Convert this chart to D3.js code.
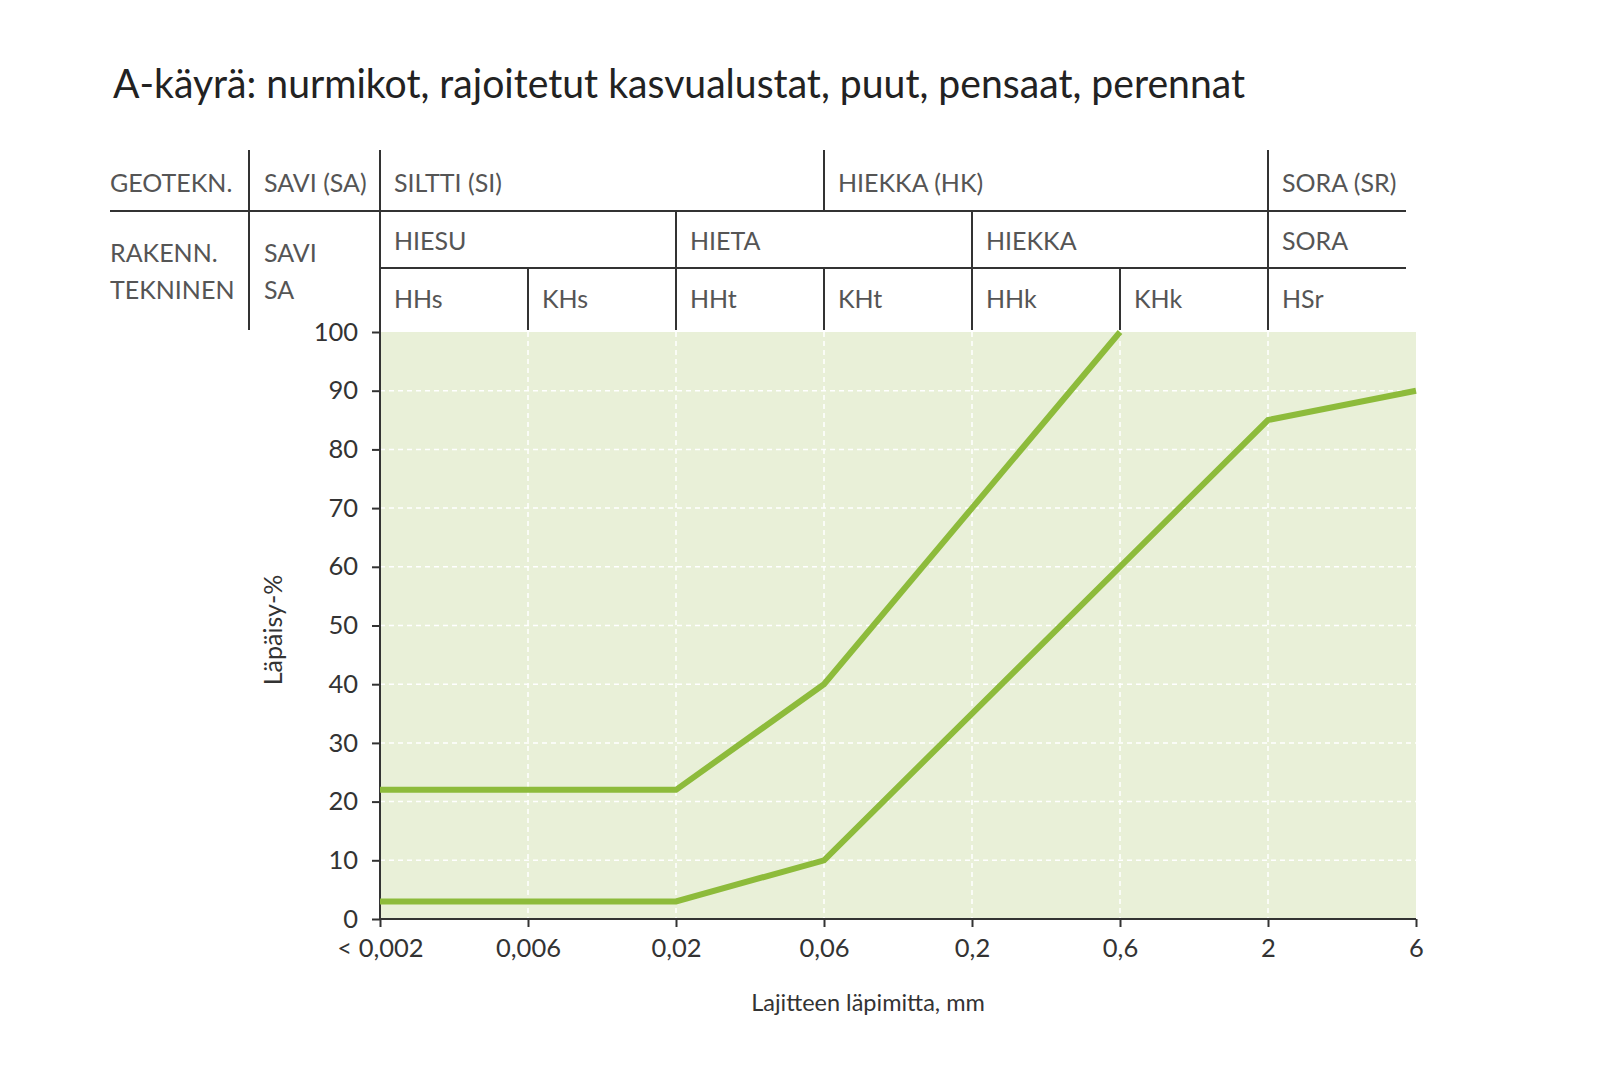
<!DOCTYPE html>
<html>
<head>
<meta charset="utf-8">
<script src="https://cdn.jsdelivr.net/npm/d3@7/dist/d3.min.js"></script>
<style>
  html, body { margin: 0; padding: 0; background: #ffffff; }
  svg { display: block; }
  text { font-family: Lato, "Noto Sans", sans-serif; }
</style>
</head>
<body>
<div id="chart"></div>
<script>
// ---- data ----
const titleText = "A-käyrä: nurmikot, rajoitetut kasvualustat, puut, pensaat, perennat";
const sizeCategories = ["< 0,002", "0,006", "0,02", "0,06", "0,2", "0,6", "2", "6"];
const yTicks = [0, 10, 20, 30, 40, 50, 60, 70, 80, 90, 100];
const upperCurve = [
  { x: "< 0,002", y: 22 }, { x: "0,02", y: 22 }, { x: "0,06", y: 40 },
  { x: "0,2", y: 70 }, { x: "0,6", y: 100 }
];
const lowerCurve = [
  { x: "< 0,002", y: 3 }, { x: "0,02", y: 3 }, { x: "0,06", y: 10 },
  { x: "0,2", y: 35 }, { x: "0,6", y: 60 }, { x: "2", y: 85 }, { x: "6", y: 90 }
];
// header table rows: label spans given as [from category, to category]
const geoRow = [
  { label: "SILTTI (SI)", from: "< 0,002", to: "0,06" },
  { label: "HIEKKA (HK)", from: "0,06", to: "2" },
  { label: "SORA (SR)", from: "2", to: "6" }
];
const rakRow = [
  { label: "HIESU", from: "< 0,002", to: "0,02" },
  { label: "HIETA", from: "0,02", to: "0,2" },
  { label: "HIEKKA", from: "0,2", to: "2" },
  { label: "SORA", from: "2", to: "6" }
];
const subRow = [
  { label: "HHs", from: "< 0,002", to: "0,006" },
  { label: "KHs", from: "0,006", to: "0,02" },
  { label: "HHt", from: "0,02", to: "0,06" },
  { label: "KHt", from: "0,06", to: "0,2" },
  { label: "HHk", from: "0,2", to: "0,6" },
  { label: "KHk", from: "0,6", to: "2" },
  { label: "HSr", from: "2", to: "6" }
];
const rowHeaders = [["GEOTEKN."], ["RAKENN.", "TEKNINEN"]];
const savHeaders = [["SAVI (SA)"], ["SAVI", "SA"]];
const yTitle = "Läpäisy-%";
const xTitle = "Lajitteen läpimitta, mm";

// ---- layout ----
const W = 1620, H = 1080;
const plot = { left: 380, right: 1416, top: 332, bottom: 919 };
const green = "#8dbb3b";
const fillCol = "#e9f0d8";
const ink = "#333333";
const tableInk = "#555555";

const svg = d3.select("#chart").append("svg").attr("width", W).attr("height", H);

const x = d3.scalePoint().domain(sizeCategories).range([plot.left, plot.right]);
const y = d3.scaleLinear().domain([0, 100]).range([plot.bottom, plot.top]);

// title
svg.append("text").attr("x", 113).attr("y", 98)
  .attr("font-size", 40).attr("fill", "#222")
  .attr("textLength", 1132).attr("lengthAdjust", "spacingAndGlyphs")
  .text(titleText);

// plot background
svg.append("rect").attr("x", plot.left).attr("y", plot.top)
  .attr("width", plot.right - plot.left).attr("height", plot.bottom - plot.top)
  .attr("fill", fillCol);

// gridlines
const grid = svg.append("g").attr("stroke", "#ffffff").attr("stroke-width", 1.5)
  .attr("stroke-dasharray", "5,4");
grid.selectAll(".hg").data(yTicks.filter(d => d > 0 && d < 100)).enter().append("line")
  .attr("x1", plot.left).attr("x2", plot.right).attr("y1", d => y(d)).attr("y2", d => y(d));
grid.selectAll(".vg").data(sizeCategories.slice(1, -1)).enter().append("line")
  .attr("x1", d => x(d)).attr("x2", d => x(d)).attr("y1", plot.top).attr("y2", plot.bottom);

// axes
const yAxis = d3.axisLeft(y).tickValues(yTicks).tickSize(8).tickPadding(14).tickSizeOuter(0);
const gy = svg.append("g").attr("transform", `translate(${plot.left},0)`).call(yAxis);
const xAxis = d3.axisBottom(x).tickSize(8).tickPadding(12).tickSizeOuter(0);
const gx = svg.append("g").attr("transform", `translate(0,${plot.bottom})`).call(xAxis);
[gx, gy].forEach(g => {
  g.select(".domain").attr("stroke", ink).attr("stroke-width", 2);
  g.selectAll(".tick line").attr("stroke", ink).attr("stroke-width", 2);
  g.selectAll(".tick text").attr("fill", ink).attr("font-size", 25.5)
    .attr("font-family", "Lato, 'Noto Sans', sans-serif");
});
gy.select(".domain").attr("d", `M0,${plot.bottom}V${plot.top - 2}`);
gx.select(".domain").attr("d", `M${plot.left},0H${plot.right}`);

// curves
const line = d3.line().x(d => x(d.x)).y(d => y(d.y));
[upperCurve, lowerCurve].forEach(c => {
  svg.append("path").datum(c).attr("d", line).attr("fill", "none")
    .attr("stroke", green).attr("stroke-width", 6)
    .attr("stroke-linejoin", "miter").attr("stroke-linecap", "butt");
});

// axis titles
svg.append("text").attr("x", 868).attr("y", 1011)
  .attr("text-anchor", "middle").attr("font-size", 23.5).attr("fill", ink).text(xTitle);
svg.append("text").attr("transform", `translate(282,630) rotate(-90)`)
  .attr("text-anchor", "middle").attr("font-size", 25).attr("fill", ink).text(yTitle);

// header table
const rowTop = 150, row1 = 211, row2 = 268, tableLeft = 110, tableRight = 1406, colSav = 249;
const baselines = [192, 250, 308];
const tbl = svg.append("g").attr("stroke", ink).attr("stroke-width", 2);
// horizontal rules
tbl.append("line").attr("x1", tableLeft).attr("x2", tableRight).attr("y1", row1).attr("y2", row1);
tbl.append("line").attr("x1", x(sizeCategories[0])).attr("x2", tableRight).attr("y1", row2).attr("y2", row2);
// savi column border
tbl.append("line").attr("x1", colSav).attr("x2", colSav).attr("y1", rowTop).attr("y2", plot.top - 2);
tbl.append("line").attr("x1", x(sizeCategories[0])).attr("x2", x(sizeCategories[0])).attr("y1", rowTop).attr("y2", plot.top);
// row separators derived from spans
const rowBounds = [[rowTop, row1], [row1, row2], [row2, plot.top - 2]];
[geoRow, rakRow, subRow].forEach((row, i) => {
  row.slice(1).forEach(s => {
    tbl.append("line").attr("x1", x(s.from)).attr("x2", x(s.from))
      .attr("y1", rowBounds[i][0]).attr("y2", rowBounds[i][1]);
  });
  svg.selectAll(null).data(row).enter().append("text")
    .attr("x", d => x(d.from) + 14).attr("y", baselines[i])
    .attr("font-size", 25).attr("fill", tableInk).text(d => d.label);
});
// left headers
rowHeaders.forEach((lines, i) => {
  lines.forEach((t, j) => {
    svg.append("text").attr("x", 110).attr("y", i === 0 ? baselines[0] : 262 + j * 37)
      .attr("font-size", 25).attr("fill", tableInk).text(t);
  });
});
savHeaders.forEach((lines, i) => {
  lines.forEach((t, j) => {
    svg.append("text").attr("x", 264).attr("y", i === 0 ? baselines[0] : 262 + j * 37)
      .attr("font-size", 25).attr("fill", tableInk).text(t);
  });
});
</script>
</body>
</html>
